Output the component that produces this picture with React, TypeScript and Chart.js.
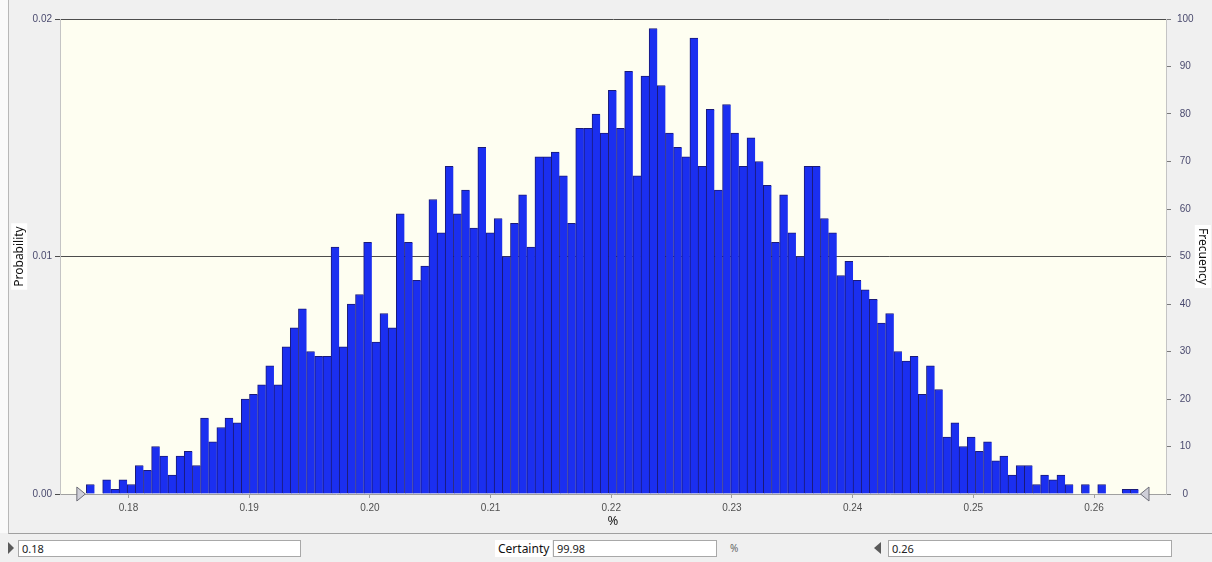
import React, { useEffect, useRef } from 'react';
import { Chart, registerables } from 'chart.js';

Chart.register(...registerables);

// Histogram frequencies (5000 trials), one value per bin, left to right
const frequencies = [
  2, 0, 3, 1, 3, 2, 6, 5, 10, 8,
  4, 8, 9, 6, 16, 11, 14, 16, 15, 20,
  21, 23, 27, 23, 31, 35, 39, 30, 29, 29,
  52, 31, 40, 42, 53, 32, 38, 35, 59, 53,
  45, 48, 62, 55, 69, 59, 64, 56, 73, 55,
  58, 50, 57, 63, 52, 71, 71, 72, 67, 57,
  77, 77, 80, 76, 85, 77, 89, 67, 88, 98,
  86, 76, 73, 71, 96, 69, 81, 64, 82, 76,
  69, 75, 70, 65, 53, 63, 55, 50, 69, 69,
  58, 55, 46, 49, 45, 43, 41, 36, 38, 30,
  28, 29, 21, 27, 22, 12, 15, 10, 12, 9,
  11, 7, 8, 4, 6, 6, 2, 4, 3, 4,
  2, 0, 2, 0, 2, 0, 0, 1, 1,
];
const binStart = 0.176508;
const binWidth = 0.0006758;
const xAxisMin = 0.174324;
const xAxisMax = 0.265964;
const xTickStep = 0.01;
const probMax = 0.02;
const probStep = 0.01;
const freqMax = 100;
const freqStep = 10;
const xTitle = '%';
const probTitle = 'Probability';
const freqTitle = 'Frecuency';
const lowerValue = '0.18';
const upperValue = '0.26';
const certaintyLabel = 'Certainty';
const certaintyValue = '99.98';

const PLOT_BG = '#fefef1';
const BAR_FILL = '#1b2ff0';
const BAR_EDGE = '#1a1a78';
const TITLE_FONT = { family: '"Noto Sans", "Liberation Sans", sans-serif', size: 12 };
const TICK_FONT = { family: '"Liberation Sans", Arial, sans-serif', size: 10 };

const decorPlugin = {
  id: 'crystalDecor',
  beforeDraw(chart: any) {
    const { ctx, chartArea: a } = chart;
    ctx.save();
    ctx.fillStyle = PLOT_BG;
    ctx.fillRect(a.left, a.top, a.right - a.left, a.bottom - a.top);
    // white boxes behind vertical axis titles
    ctx.font = `${TITLE_FONT.size}px ${TITLE_FONT.family}`;
    const cy = (a.top + a.bottom) / 2;
    const yS = chart.scales.y;
    const y1S = chart.scales.y1;
    const box = (cx: number, text: string) => {
      const w = ctx.measureText(text).width + 6;
      ctx.fillStyle = '#ffffff';
      ctx.fillRect(cx - 8, cy - w / 2, 16, w);
    };
    box(yS.left + 7.2 + 12, probTitle);
    box(y1S.right - 7.2 - 2, freqTitle);
    ctx.restore();
  },
  afterDraw(chart: any) {
    const { ctx, chartArea: a } = chart;
    const xs = chart.scales.x;
    const lo = xs.getPixelForValue(binStart) - 1;
    const hi = xs.getPixelForValue(binStart + binWidth * frequencies.length) + 2;
    const yb = a.bottom;
    ctx.save();
    ctx.fillStyle = '#cfcfd8';
    ctx.strokeStyle = '#6e6e78';
    ctx.lineWidth = 1;
    ctx.beginPath();
    ctx.moveTo(lo - 8.5, yb - 7);
    ctx.lineTo(lo, yb);
    ctx.lineTo(lo - 8.5, yb + 7);
    ctx.closePath();
    ctx.fill();
    ctx.stroke();
    ctx.beginPath();
    ctx.moveTo(hi + 8.5, yb - 7);
    ctx.lineTo(hi, yb);
    ctx.lineTo(hi + 8.5, yb + 7);
    ctx.closePath();
    ctx.fill();
    ctx.stroke();
    ctx.restore();
  },
};

function Box({ left, width, text }: { left: number; width: number; text: string }) {
  return (
    <div
      style={{
        position: 'absolute',
        left,
        top: 540,
        width,
        height: 17,
        boxSizing: 'border-box',
        border: '1px solid #a8a8a8',
        background: '#ffffff',
        fontFamily: '"Noto Sans", sans-serif',
        fontSize: 11,
        lineHeight: '15px',
        paddingLeft: 3,
        color: '#222',
      }}
    >
      {text}
    </div>
  );
}

export default function App() {
  const canvasRef = useRef<HTMLCanvasElement | null>(null);

  useEffect(() => {
    if (!canvasRef.current) return;
    const data = frequencies.map((f, i) => ({ x: binStart + binWidth * (i + 0.5), y: f }));
    const chart = new Chart(canvasRef.current, {
      type: 'bar',
      data: {
        datasets: [
          {
            data: data as any,
            yAxisID: 'y1',
            backgroundColor: BAR_FILL,
            borderColor: BAR_EDGE,
            borderWidth: { top: 1, left: 1, right: 0, bottom: 0 } as any,
            borderSkipped: false,
            barPercentage: 1,
            categoryPercentage: 1,
          },
        ],
      },
      options: {
        animation: false,
        responsive: false,
        devicePixelRatio: 1,
        layout: { padding: { top: 19, left: 0, right: 0, bottom: 0 } },
        plugins: { legend: { display: false }, tooltip: { enabled: false } },
        scales: {
          x: {
            type: 'linear',
            min: xAxisMin,
            max: xAxisMax,
            offset: false,
            grid: { offset: false, drawOnChartArea: false, tickLength: 4, color: '#a0a0a0' },
            border: { color: '#a0a0a0' },
            ticks: {
              stepSize: xTickStep,
              includeBounds: false,
              padding: 4,
              maxRotation: 0,
              autoSkip: false,
              color: '#505050',
              font: TICK_FONT,
              callback: (v: any) => Number(v).toFixed(2),
            },
            title: { display: true, text: xTitle, color: '#222', font: { ...TITLE_FONT, size: 13 }, padding: { top: 0, bottom: 4 } },
            afterFit: (s: any) => {
              s.height = 39;
            },
          },
          y: {
            position: 'left',
            min: 0,
            max: probMax,
            grid: {
              drawOnChartArea: true,
              tickLength: 5,
              color: (c: any) => (c.tick && c.tick.value === 0 ? 'rgba(0,0,0,0)' : '#4c4c4c'),
              tickColor: '#4c4c4c',
            },
            border: { color: '#c4c4c4' },
            ticks: {
              stepSize: probStep,
              padding: 3,
              color: '#4a4a6e',
              font: TICK_FONT,
              callback: (v: any) => Number(v).toFixed(2),
            },
            title: { display: true, text: probTitle, color: '#111', font: TITLE_FONT, padding: { top: 12, bottom: 0 } },
            afterFit: (s: any) => {
              s.width = 60;
            },
          },
          y1: {
            position: 'right',
            min: 0,
            max: freqMax,
            grid: { drawOnChartArea: false, tickLength: 5, color: '#7a7a7a' },
            border: { color: '#c4c4c4' },
            ticks: {
              stepSize: freqStep,
              padding: 6,
              crossAlign: 'center',
              color: '#4a4a6e',
              font: TICK_FONT,
            },
            title: { display: true, text: freqTitle, color: '#111', font: TITLE_FONT, padding: { top: 2, bottom: 0 } },
            afterFit: (s: any) => {
              s.width = 46;
            },
          },
        },
      },
      plugins: [decorPlugin],
    });
    return () => chart.destroy();
  }, []);

  return (
    <div
      style={{
        position: 'fixed',
        left: 0,
        top: 0,
        width: 1212,
        height: 562,
        background: '#f0f0f0',
        overflow: 'hidden',
      }}
    >
      <div style={{ position: 'absolute', left: 0, top: 0, width: 8, height: 533, background: '#fafafa' }} />
      <div
        style={{
          position: 'absolute',
          left: 8,
          top: 0,
          width: 1204,
          height: 534,
          boxSizing: 'border-box',
          borderLeft: '1px solid #b8b8b8',
          borderBottom: '1px solid #a0a0a0',
        }}
      />
      <canvas ref={canvasRef} width={1212} height={533} style={{ position: 'absolute', left: 0, top: 0, width: 1212, height: 533 }} />
      {/* bottom controls */}
      <div
        style={{
          position: 'absolute',
          left: 8,
          top: 542,
          width: 0,
          height: 0,
          borderTop: '6px solid transparent',
          borderBottom: '6px solid transparent',
          borderLeft: '6px solid #5a5a5a',
        }}
      />
      <Box left={18} width={283} text={lowerValue} />
      <div
        style={{
          position: 'absolute',
          left: 495,
          top: 540,
          height: 17,
          padding: '0 3px',
          background: '#ffffff',
          fontFamily: '"Noto Sans", sans-serif',
          fontSize: 12,
          lineHeight: '17px',
          color: '#111',
        }}
      >
        {certaintyLabel}
      </div>
      <Box left={553} width={164} text={certaintyValue} />
      <div
        style={{
          position: 'absolute',
          left: 730,
          top: 541,
          fontFamily: '"Noto Sans", sans-serif',
          fontSize: 10,
          lineHeight: '15px',
          color: '#666',
        }}
      >
        %
      </div>
      <div
        style={{
          position: 'absolute',
          left: 874,
          top: 542,
          width: 0,
          height: 0,
          borderTop: '6px solid transparent',
          borderBottom: '6px solid transparent',
          borderRight: '7px solid #5a5a5a',
        }}
      />
      <Box left={888} width={284} text={upperValue} />
    </div>
  );
}
